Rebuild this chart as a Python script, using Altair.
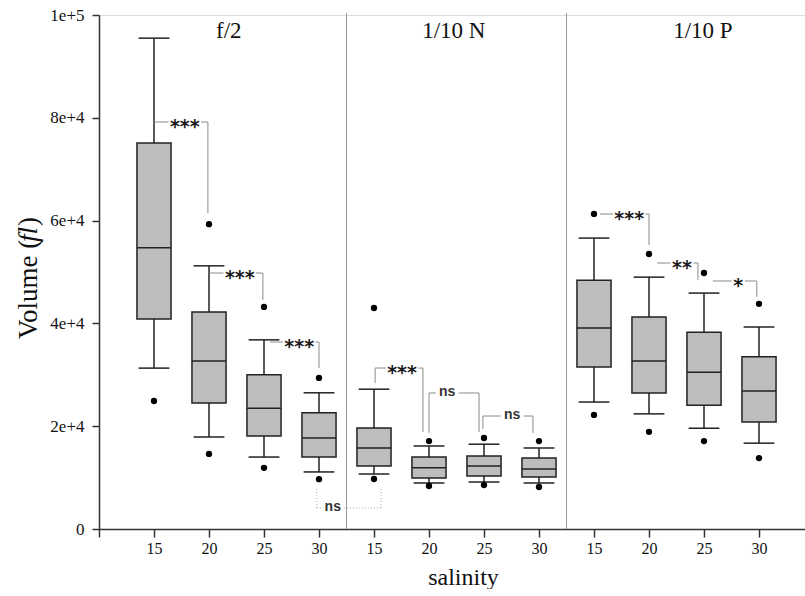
import altair as alt
import pandas as pd

# ---------------- data ----------------
groups = ["f/2", "1/10 N", "1/10 P"]
salinity = ["15", "20", "25", "30"]

upper_cap = [95500, 51200, 36800, 26500, 27200, 16150, 16500, 15760, 56600, 49000, 45900, 39300]
q3 = [75100, 42200, 30000, 22600, 19650, 14000, 14200, 13800, 48400, 41250, 38300, 33500]
median = [54700, 32700, 23500, 17700, 15760, 11900, 12260, 11670, 39100, 32700, 30500, 26850]
q1 = [40860, 24500, 18100, 14000, 12260, 9920, 10300, 10100, 31500, 26460, 24100, 20800]
lower_cap = [31300, 17900, 14000, 11100, 10700, 8950, 9140, 8950, 24700, 22400, 19600, 16700]
outlier_high = [None, 59300, 43200, 29400, 43000, 17100, 17700, 17100, 61300, 53500, 49800, 43800]
outlier_low = [24900, 14600, 11900, 9700, 9730, 8370, 8560, 8170, 22200, 18900, 17100, 13800]

# significance brackets (x in box-position units, y in fl)
br_left = [1.0, 2.0, 3.11, 5.02, 6.0, 6.98, 9.11, 10.15, 11.16]
br_right = [1.98, 2.98, 4.0, 5.89, 6.91, 7.89, 10.0, 10.89, 11.96]
br_y = [79180, 49800, 36380, 31320, 26460, 21980, 61280, 51750, 48250]
br_left_end = [None, None, None, 28400, 18680, 19460, None, None, None]
br_right_end = [61480, 44550, 31320, 18870, 18870, 18680, 55250, 48440, 45140]
br_label = ["***", "***", "***", "***", "ns", "ns", "***", "**", "*"]
br_label_x = [1.56, 2.56, 3.64, 5.51, 6.33, 7.51, 9.64, 10.6, 11.62]

# dotted "ns" bracket between f/2-30 and 1/10 N-15
ns_left, ns_right, ns_y, ns_top, ns_label_x = 3.96, 5.13, 4090, 8170, 4.25

group_title_x = [2.36, 6.45, 10.98]
group_title_y = [95500, 95500, 95500]
dividers = [4.5, 8.5]

# ---------------- tables ----------------
pos = list(range(1, 13))
box = pd.DataFrame({
    "pos": pos,
    "group": [g for g in groups for _ in salinity],
    "sal": salinity * 3,
    "upper": upper_cap, "q3": q3, "median": median, "q1": q1, "lower": lower_cap,
})
out = pd.DataFrame({"pos": pos * 2, "v": outlier_high + outlier_low}).dropna()

segs = []
for l, r, y, le, re in zip(br_left, br_right, br_y, br_left_end, br_right_end):
    segs.append({"x": l, "x2": r, "y": y, "y2": y})
    segs.append({"x": r, "x2": r, "y": y, "y2": re})
    if le is not None:
        segs.append({"x": l, "x2": l, "y": y, "y2": le})
segs = pd.DataFrame(segs)
labels = pd.DataFrame({"x": br_label_x, "y": br_y, "label": br_label})
stars = labels[labels["label"] != "ns"]
nss = labels[labels["label"] == "ns"]

dotted = pd.DataFrame([
    {"x": ns_left, "x2": ns_right, "y": ns_y, "y2": ns_y},
    {"x": ns_left, "x2": ns_left, "y": ns_y, "y2": ns_top},
    {"x": ns_right, "x2": ns_right, "y": ns_y, "y2": ns_top},
])
dotted_label = pd.DataFrame({"x": [ns_label_x], "y": [ns_y], "label": ["ns"]})
titles = pd.DataFrame({"x": group_title_x, "y": group_title_y, "label": groups})
divs = pd.DataFrame({"x": dividers})

# ---------------- scales & axes ----------------
SERIF = "Times New Roman, Liberation Serif, serif"
INK = "#111"
xs = alt.Scale(domain=[0, 706 / 55], nice=False, zero=False)
ys = alt.Scale(domain=[0, 100000], nice=False)
xaxis = alt.Axis(
    values=list(range(0, 13)),
    labelExpr="datum.value == 0 ? '' : ['15','20','25','30'][(datum.value - 1) % 4]",
    grid=False, tickSize=8, tickWidth=1.5, tickColor="#333", domainColor="#333", domainWidth=1.5,
    labelFont=SERIF, labelFontSize=16, labelColor=INK, labelPadding=3,
    title="salinity", titleFont=SERIF, titleFontSize=24, titleFontWeight="normal",
    titleColor=INK, titleX=364, titleY=55, titleBaseline="alphabetic", titleAnchor="middle",
)
yaxis = alt.Axis(
    values=[0, 20000, 40000, 60000, 80000, 100000],
    labelExpr="datum.value == 0 ? '0' : datum.value == 100000 ? '1e+5' : (datum.value / 10000) + 'e+4'",
    grid=False, tickSize=7, tickWidth=1.5, tickColor="#333", domainColor="#333", domainWidth=1.5,
    labelFont=SERIF, labelFontSize=17, labelColor=INK, labelPadding=8, title=None,
)


def X(f):
    return alt.X(f, type="quantitative", scale=xs, axis=xaxis)


def Y(f):
    return alt.Y(f, type="quantitative", scale=ys, axis=yaxis)


base_box = alt.Chart(box).transform_calculate(
    bx1="datum.pos - 0.31", bx2="datum.pos + 0.31",
    cx1="datum.pos - 0.28", cx2="datum.pos + 0.28",
)

whisk_hi = base_box.mark_rule(color="#222", strokeWidth=1.5).encode(x=X("pos"), y=Y("q3"), y2="upper")
whisk_lo = base_box.mark_rule(color="#222", strokeWidth=1.5).encode(x=X("pos"), y=Y("lower"), y2="q1")
cap_hi = base_box.mark_rule(color="#222", strokeWidth=1.5).encode(x=X("cx1"), x2="cx2", y=Y("upper"))
cap_lo = base_box.mark_rule(color="#222", strokeWidth=1.5).encode(x=X("cx1"), x2="cx2", y=Y("lower"))
rects = base_box.mark_rect(fill="#bdbdbd", stroke="#222", strokeWidth=1.5).encode(
    x=X("bx1"), x2="bx2", y=Y("q1"), y2="q3")
meds = base_box.mark_rule(color="#222", strokeWidth=1.5).encode(x=X("bx1"), x2="bx2", y=Y("median"))

pts = alt.Chart(out).mark_circle(color="#000", opacity=1, size=40).encode(x=X("pos"), y=Y("v"))

div_rules = alt.Chart(divs).mark_rule(color="#999", strokeWidth=1).encode(
    x=X("x"), y=alt.value(514), y2=alt.value(-2))

seg_rules = alt.Chart(segs).mark_rule(color="#8a8a8a", strokeWidth=1).encode(
    x=X("x"), x2="x2", y=Y("y"), y2="y2")
knock = alt.Chart(labels).transform_calculate(w="length(datum.label) * 9.5 + 4").mark_tick(
    orient="horizontal", color="white", opacity=1, thickness=10).encode(
    x=X("x"), y=Y("y"), size=alt.Size("w:Q", scale=None, legend=None))
star_txt = alt.Chart(stars).mark_text(
    font="DejaVu Sans", fontWeight="bold", fontSize=19, color="#1a1a1a", baseline="alphabetic", dy=11).encode(
    x=X("x"), y=Y("y"), text="label:N")
ns_txt = alt.Chart(nss).mark_text(
    font="Liberation Sans", fontWeight="bold", fontSize=14, color="#333", baseline="middle", dy=-1).encode(
    x=X("x"), y=Y("y"), text="label:N")

dot_rules = alt.Chart(dotted).mark_rule(color="#aaa", strokeWidth=1, strokeDash=[1, 2]).encode(
    x=X("x"), x2="x2", y=Y("y"), y2="y2")
dot_knock = alt.Chart(dotted_label).mark_tick(
    orient="horizontal", color="white", opacity=1, thickness=10, size=20).encode(x=X("x"), y=Y("y"))
dot_txt = alt.Chart(dotted_label).mark_text(
    font="Liberation Sans", fontWeight="bold", fontSize=14, color="#333", baseline="middle", dy=-1).encode(
    x=X("x"), y=Y("y"), text="label:N")

title_txt = alt.Chart(titles).mark_text(
    font=SERIF, fontSize=23, color=INK, baseline="alphabetic").encode(
    x=X("x"), y=Y("y"), text="label:N")

ylab_df = pd.DataFrame({"t1": ["Volume ("], "t2": ["fl"], "t3": [")"]})
ylab1 = alt.Chart(ylab_df).mark_text(font=SERIF, fontSize=27, color=INK, angle=270,
                                     align="left", baseline="middle").encode(
    x=alt.value(-70), y=alt.value(324), text="t1:N")
ylab2 = alt.Chart(ylab_df).mark_text(font=SERIF, fontSize=27, color=INK, angle=270, fontStyle="italic",
                                     align="left", baseline="middle").encode(
    x=alt.value(-70), y=alt.value(227), text="t2:N")
ylab3 = alt.Chart(ylab_df).mark_text(font=SERIF, fontSize=27, color=INK, angle=270,
                                     align="left", baseline="middle").encode(
    x=alt.value(-70), y=alt.value(211), text="t3:N")

chart = alt.layer(
    div_rules, dot_rules, dot_knock, dot_txt,
    whisk_hi, whisk_lo, cap_hi, cap_lo, rects, meds, pts,
    seg_rules, knock, star_txt, ns_txt, title_txt, ylab1, ylab2, ylab3,
).properties(
    width=706, height=514,
    padding={"left": 99, "top": 15, "right": 0, "bottom": 60},
    autosize=alt.AutoSizeParams(type="none"),
).configure_view(stroke=None).configure(background="white")

chart.save("out.html", embed_options={"renderer": "svg", "actions": False})
